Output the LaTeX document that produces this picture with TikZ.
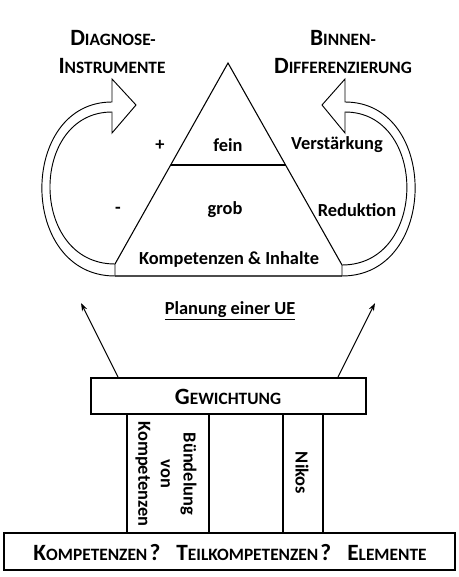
\documentclass[tikz,border=0pt]{standalone}
\usepackage{fontspec}
\setmainfont{Carlito}
\usetikzlibrary{arrows.meta}
\newcommand\fsc[2]{{\fontsize{17.5}{20}\selectfont #1}{\fontsize{13}{16}\selectfont #2}}
\newcommand\bigq{{\fontsize{17.5}{20}\selectfont ?}}
\begin{document}
\begin{tikzpicture}[x=0.75pt,y=-0.75pt,
  line/.style={draw=black,line width=0.8pt},
  lbl/.style={font=\fontsize{13.8}{17}\selectfont\bfseries,inner sep=0pt},
  head/.style={font=\bfseries,inner sep=0pt,align=center},
  band/.style={draw=black,line width=0.7pt,fill=white},
  uparrow/.style={draw=black,line width=0.7pt,-{Stealth[length=6pt,width=4pt]}}]
\useasboundingbox (0,0) rectangle (459,577);
% triangle
\draw[line] (115,264) -- (228,63) -- (342,265);
\draw[line,draw=black!70,line width=1pt] (115,276) -- (342,276);
\draw[line] (170.7,165) -- (285.6,165);
% curved arrows
\draw[band] (112,79) -- (136,105) -- (112,133) -- (112,112)
  .. controls (28.8,112) and (28.8,264) .. (115,264) -- (115,276)
  .. controls (18,276) and (18,102) .. (112,102) -- cycle;
\draw[band] (345,79) -- (322,105) -- (345,133) -- (345,112)
  .. controls (428,112) and (428,265) .. (342,265) -- (342,276)
  .. controls (439,276) and (439,102) .. (345,102) -- cycle;
% headings
\node[head] (diag1) at (113,38) {\fsc{D}{IAGNOSE-}};
\node[head] (diag2) at (112,66) {\fsc{I}{NSTRUMENTE}};
\node[head] (binn1) at (343,38) {\fsc{B}{INNEN-}};
\node[head] (binn2) at (343,66) {\fsc{D}{IFFERENZIERUNG}};
% triangle labels
\node[lbl] (plus) at (160,145) {+};
\node[lbl] (fein) at (228,145) {fein};
\node[lbl] (verst) at (337,145) {Verstärkung};
\node[lbl] (minus) at (118,210) {-};
\node[lbl] (grob) at (225,210) {grob};
\node[lbl] (red) at (357,210) {Reduktion};
\node[lbl] (komp) at (229,259) {Kompetenzen \& Inhalte};
\node[lbl] (plan) at (230,311) {\underline{Planung einer UE}};
% up arrows
\coordinate (ls) at (118,377);
\coordinate (le) at (81,303);
\coordinate (rs) at (338,377);
\coordinate (re) at (375,303);
\draw[uparrow] (ls) -- (le);
\draw[uparrow] (rs) -- (re);
% Gewichtung box
\draw[line] (91,378) rectangle (366,414);
\node[head] (gew) at (228,397) {\fsc{G}{EWICHTUNG}};
% pillars
\draw[line] (127,414) rectangle (209,533);
\draw[line] (283,414) rectangle (323,533);
\node[lbl,rotate=-90,align=center] (bund) at (166,474) {Bündelung\\von\\Kompetenzen};
\node[lbl,rotate=-90] (nikos) at (302,473) {Nikos};
% bottom box
\draw[line] (4,533) rectangle (455,570);
\node[head] (base) at (230,553) {\fsc{K}{OMPETENZEN}\,\bigq\hspace{12pt}\fsc{T}{EILKOMPETENZEN}\,\bigq\hspace{12pt}\fsc{E}{LEMENTE}};
\end{tikzpicture}
\end{document}
